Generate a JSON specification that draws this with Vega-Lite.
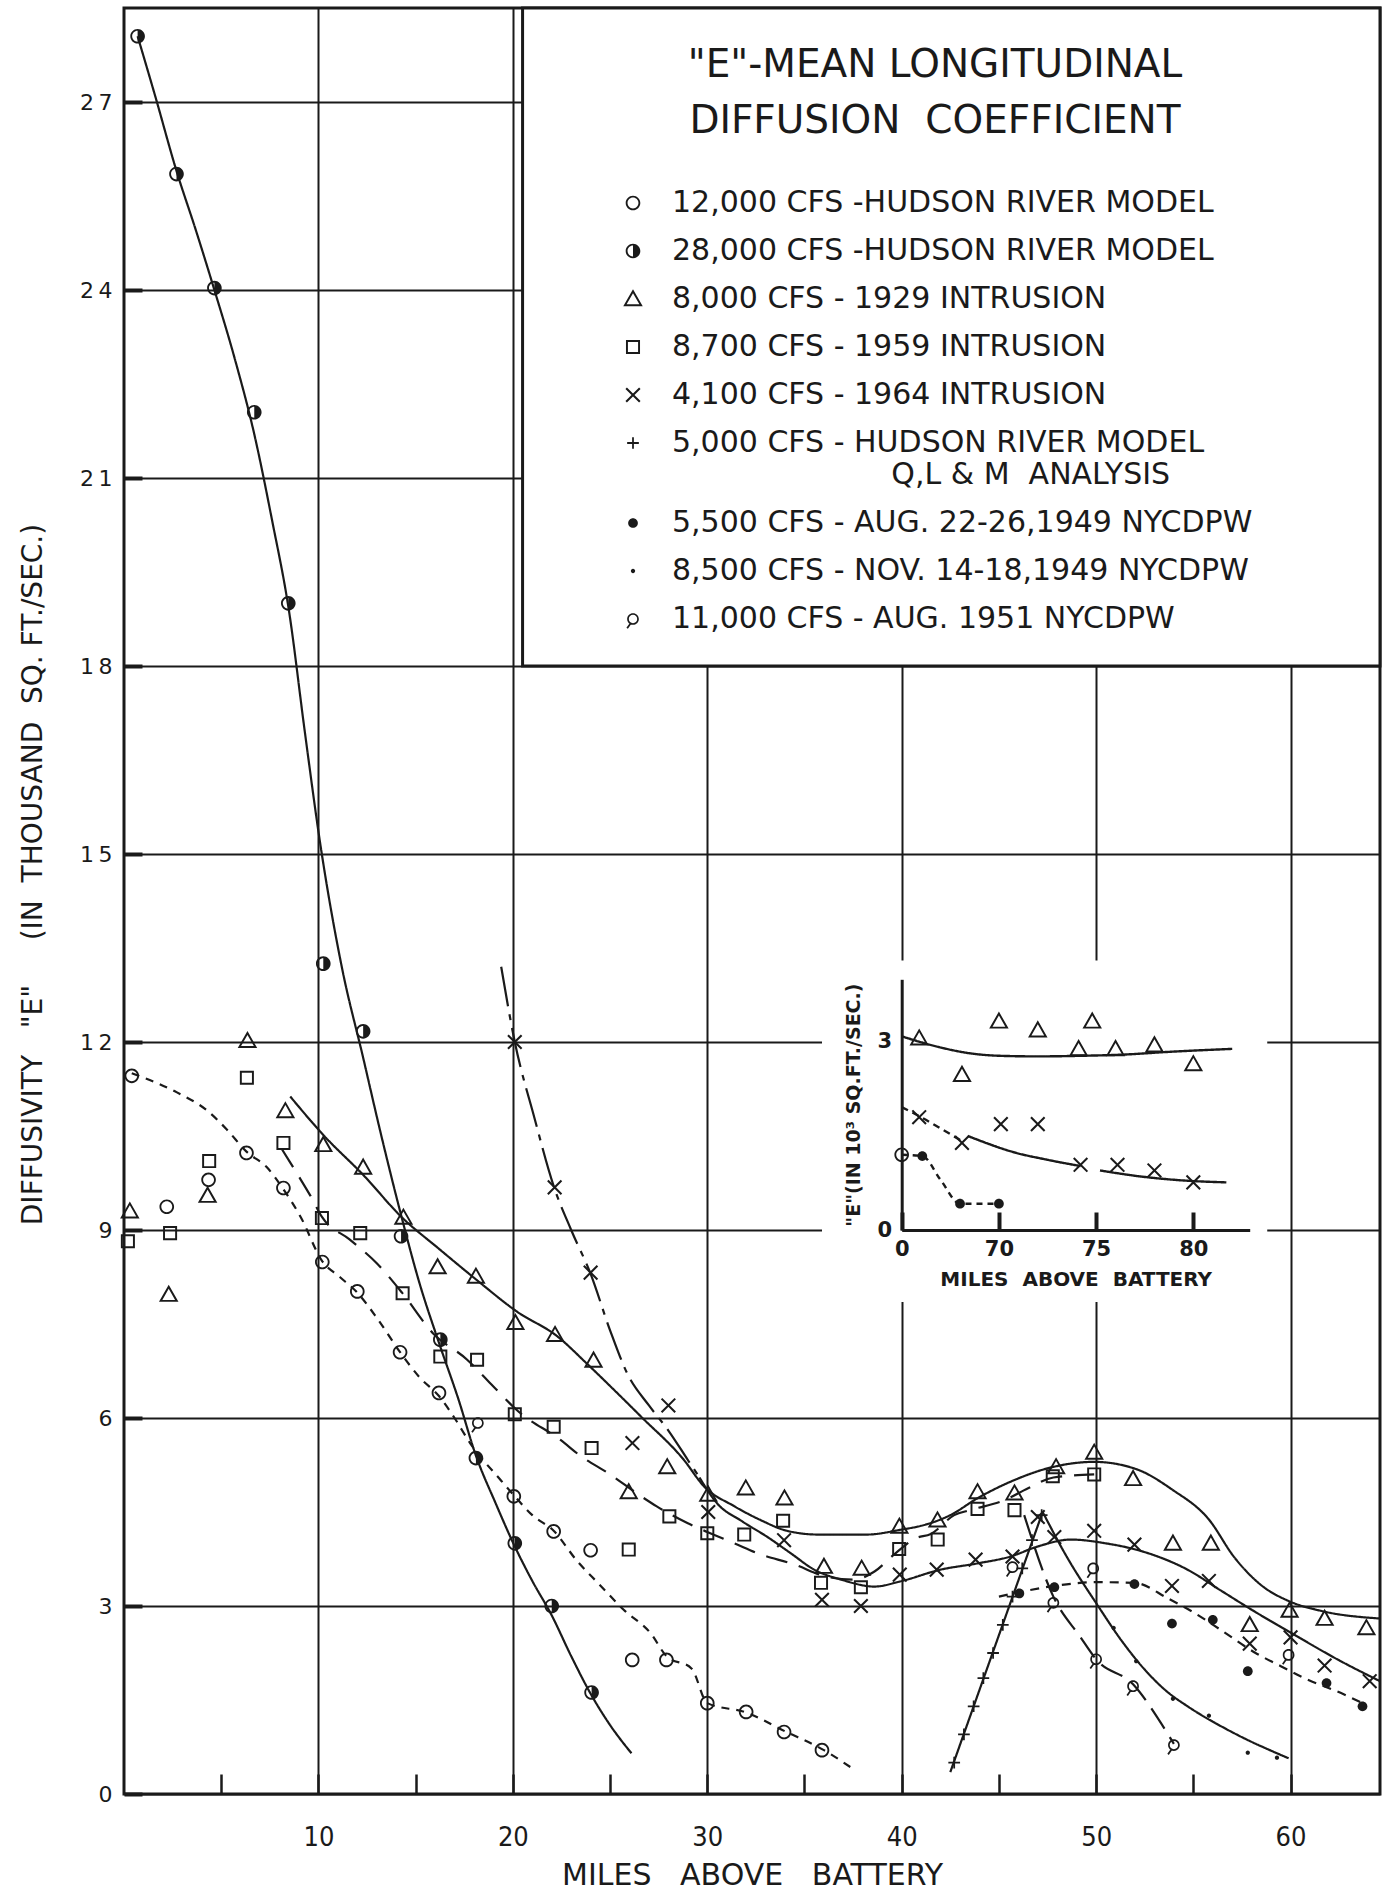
{
"$schema":"https://vega.github.io/schema/vega-lite/v6.json",
"width":1256,"height":1786,
"autosize":{"type":"none"},
"padding":{"left":124,"top":8,"right":11,"bottom":102},
"background":"white",
"config":{
 "view":{"stroke":"#1a1a1a","strokeWidth":3},
 "font":"DejaVu Sans",
 "axis":{"labelColor":"#1a1a1a","titleColor":"#1a1a1a","domainColor":"#1a1a1a","tickColor":"#1a1a1a","gridColor":"#1a1a1a","labelFont":"DejaVu Sans","titleFont":"DejaVu Sans"}
},
"datasets":{
"pts":[
{"series":"12,000 CFS -HUDSON RIVER MODEL","x":0.4,"y":11.46},{"series":"12,000 CFS -HUDSON RIVER MODEL","x":2.2,"y":9.37},{"series":"12,000 CFS -HUDSON RIVER MODEL","x":4.35,"y":9.8},{"series":"12,000 CFS -HUDSON RIVER MODEL","x":6.3,"y":10.23},{"series":"12,000 CFS -HUDSON RIVER MODEL","x":8.2,"y":9.67},{"series":"12,000 CFS -HUDSON RIVER MODEL","x":10.2,"y":8.49},{"series":"12,000 CFS -HUDSON RIVER MODEL","x":12.0,"y":8.02},{"series":"12,000 CFS -HUDSON RIVER MODEL","x":14.2,"y":7.05},{"series":"12,000 CFS -HUDSON RIVER MODEL","x":16.2,"y":6.4},{"series":"12,000 CFS -HUDSON RIVER MODEL","x":20.05,"y":4.75},{"series":"12,000 CFS -HUDSON RIVER MODEL","x":22.1,"y":4.19},{"series":"12,000 CFS -HUDSON RIVER MODEL","x":24.0,"y":3.89},{"series":"12,000 CFS -HUDSON RIVER MODEL","x":26.14,"y":2.14},{"series":"12,000 CFS -HUDSON RIVER MODEL","x":27.9,"y":2.14},{"series":"12,000 CFS -HUDSON RIVER MODEL","x":30.0,"y":1.45},{"series":"12,000 CFS -HUDSON RIVER MODEL","x":32.0,"y":1.31},{"series":"12,000 CFS -HUDSON RIVER MODEL","x":33.95,"y":0.99},{"series":"12,000 CFS -HUDSON RIVER MODEL","x":35.9,"y":0.7},
{"series":"28,000 CFS -HUDSON RIVER MODEL","x":0.7,"y":28.05},{"series":"28,000 CFS -HUDSON RIVER MODEL","x":2.7,"y":25.85},{"series":"28,000 CFS -HUDSON RIVER MODEL","x":4.65,"y":24.03},{"series":"28,000 CFS -HUDSON RIVER MODEL","x":6.7,"y":22.05},{"series":"28,000 CFS -HUDSON RIVER MODEL","x":8.45,"y":19.0},{"series":"28,000 CFS -HUDSON RIVER MODEL","x":10.25,"y":13.25},{"series":"28,000 CFS -HUDSON RIVER MODEL","x":12.3,"y":12.17},{"series":"28,000 CFS -HUDSON RIVER MODEL","x":14.25,"y":8.9},{"series":"28,000 CFS -HUDSON RIVER MODEL","x":16.27,"y":7.25},{"series":"28,000 CFS -HUDSON RIVER MODEL","x":18.1,"y":5.36},{"series":"28,000 CFS -HUDSON RIVER MODEL","x":20.1,"y":4.0},{"series":"28,000 CFS -HUDSON RIVER MODEL","x":22.0,"y":3.0},{"series":"28,000 CFS -HUDSON RIVER MODEL","x":24.05,"y":1.62},
{"series":"8,000 CFS - 1929 INTRUSION","x":0.3,"y":9.3},{"series":"8,000 CFS - 1929 INTRUSION","x":2.3,"y":7.97},{"series":"8,000 CFS - 1929 INTRUSION","x":4.3,"y":9.55},{"series":"8,000 CFS - 1929 INTRUSION","x":6.35,"y":12.02},{"series":"8,000 CFS - 1929 INTRUSION","x":8.3,"y":10.9},{"series":"8,000 CFS - 1929 INTRUSION","x":10.25,"y":10.36},{"series":"8,000 CFS - 1929 INTRUSION","x":12.3,"y":10.0},{"series":"8,000 CFS - 1929 INTRUSION","x":14.37,"y":9.2},{"series":"8,000 CFS - 1929 INTRUSION","x":16.13,"y":8.41},{"series":"8,000 CFS - 1929 INTRUSION","x":18.1,"y":8.26},{"series":"8,000 CFS - 1929 INTRUSION","x":20.13,"y":7.52},{"series":"8,000 CFS - 1929 INTRUSION","x":22.17,"y":7.33},{"series":"8,000 CFS - 1929 INTRUSION","x":24.15,"y":6.92},{"series":"8,000 CFS - 1929 INTRUSION","x":25.96,"y":4.82},{"series":"8,000 CFS - 1929 INTRUSION","x":27.94,"y":5.22},{"series":"8,000 CFS - 1929 INTRUSION","x":30.05,"y":4.78},{"series":"8,000 CFS - 1929 INTRUSION","x":31.98,"y":4.88},{"series":"8,000 CFS - 1929 INTRUSION","x":33.97,"y":4.72},{"series":"8,000 CFS - 1929 INTRUSION","x":36.0,"y":3.63},{"series":"8,000 CFS - 1929 INTRUSION","x":37.94,"y":3.6},{"series":"8,000 CFS - 1929 INTRUSION","x":39.88,"y":4.27},{"series":"8,000 CFS - 1929 INTRUSION","x":41.84,"y":4.37},{"series":"8,000 CFS - 1929 INTRUSION","x":43.9,"y":4.82},{"series":"8,000 CFS - 1929 INTRUSION","x":45.8,"y":4.8},{"series":"8,000 CFS - 1929 INTRUSION","x":47.94,"y":5.22},{"series":"8,000 CFS - 1929 INTRUSION","x":49.9,"y":5.45},{"series":"8,000 CFS - 1929 INTRUSION","x":51.9,"y":5.03},{"series":"8,000 CFS - 1929 INTRUSION","x":53.95,"y":4.0},{"series":"8,000 CFS - 1929 INTRUSION","x":55.9,"y":4.0},{"series":"8,000 CFS - 1929 INTRUSION","x":57.9,"y":2.7},{"series":"8,000 CFS - 1929 INTRUSION","x":59.95,"y":2.93},{"series":"8,000 CFS - 1929 INTRUSION","x":61.75,"y":2.8},{"series":"8,000 CFS - 1929 INTRUSION","x":63.9,"y":2.65},
{"series":"8,700 CFS - 1959 INTRUSION","x":0.2,"y":8.82},{"series":"8,700 CFS - 1959 INTRUSION","x":2.37,"y":8.95},{"series":"8,700 CFS - 1959 INTRUSION","x":4.38,"y":10.1},{"series":"8,700 CFS - 1959 INTRUSION","x":6.32,"y":11.43},{"series":"8,700 CFS - 1959 INTRUSION","x":8.2,"y":10.39},{"series":"8,700 CFS - 1959 INTRUSION","x":10.18,"y":9.19},{"series":"8,700 CFS - 1959 INTRUSION","x":12.15,"y":8.95},{"series":"8,700 CFS - 1959 INTRUSION","x":14.33,"y":7.99},{"series":"8,700 CFS - 1959 INTRUSION","x":16.27,"y":6.98},{"series":"8,700 CFS - 1959 INTRUSION","x":18.16,"y":6.93},{"series":"8,700 CFS - 1959 INTRUSION","x":20.1,"y":6.06},{"series":"8,700 CFS - 1959 INTRUSION","x":22.1,"y":5.86},{"series":"8,700 CFS - 1959 INTRUSION","x":24.05,"y":5.52},{"series":"8,700 CFS - 1959 INTRUSION","x":25.96,"y":3.9},{"series":"8,700 CFS - 1959 INTRUSION","x":28.05,"y":4.43},{"series":"8,700 CFS - 1959 INTRUSION","x":30.0,"y":4.16},{"series":"8,700 CFS - 1959 INTRUSION","x":31.9,"y":4.14},{"series":"8,700 CFS - 1959 INTRUSION","x":33.9,"y":4.36},{"series":"8,700 CFS - 1959 INTRUSION","x":35.85,"y":3.37},{"series":"8,700 CFS - 1959 INTRUSION","x":37.9,"y":3.3},{"series":"8,700 CFS - 1959 INTRUSION","x":39.87,"y":3.91},{"series":"8,700 CFS - 1959 INTRUSION","x":41.85,"y":4.06},{"series":"8,700 CFS - 1959 INTRUSION","x":43.9,"y":4.55},{"series":"8,700 CFS - 1959 INTRUSION","x":45.8,"y":4.53},{"series":"8,700 CFS - 1959 INTRUSION","x":47.77,"y":5.07},{"series":"8,700 CFS - 1959 INTRUSION","x":49.9,"y":5.1},
{"series":"4,100 CFS - 1964 INTRUSION","x":20.1,"y":12.0},{"series":"4,100 CFS - 1964 INTRUSION","x":22.15,"y":9.68},{"series":"4,100 CFS - 1964 INTRUSION","x":24.0,"y":8.32},{"series":"4,100 CFS - 1964 INTRUSION","x":26.15,"y":5.6},{"series":"4,100 CFS - 1964 INTRUSION","x":28.0,"y":6.2},{"series":"4,100 CFS - 1964 INTRUSION","x":30.05,"y":4.5},{"series":"4,100 CFS - 1964 INTRUSION","x":33.95,"y":4.05},{"series":"4,100 CFS - 1964 INTRUSION","x":35.9,"y":3.1},{"series":"4,100 CFS - 1964 INTRUSION","x":37.9,"y":3.0},{"series":"4,100 CFS - 1964 INTRUSION","x":39.9,"y":3.5},{"series":"4,100 CFS - 1964 INTRUSION","x":41.8,"y":3.58},{"series":"4,100 CFS - 1964 INTRUSION","x":43.8,"y":3.74},{"series":"4,100 CFS - 1964 INTRUSION","x":45.7,"y":3.79},{"series":"4,100 CFS - 1964 INTRUSION","x":47.0,"y":4.42},{"series":"4,100 CFS - 1964 INTRUSION","x":47.85,"y":4.1},{"series":"4,100 CFS - 1964 INTRUSION","x":49.9,"y":4.2},{"series":"4,100 CFS - 1964 INTRUSION","x":51.97,"y":3.98},{"series":"4,100 CFS - 1964 INTRUSION","x":53.9,"y":3.32},{"series":"4,100 CFS - 1964 INTRUSION","x":55.8,"y":3.4},{"series":"4,100 CFS - 1964 INTRUSION","x":57.9,"y":2.4},{"series":"4,100 CFS - 1964 INTRUSION","x":60.0,"y":2.5},{"series":"4,100 CFS - 1964 INTRUSION","x":61.75,"y":2.05},{"series":"4,100 CFS - 1964 INTRUSION","x":64.07,"y":1.8},
{"series":"5,000 CFS - HUDSON RIVER MODEL","x":42.7,"y":0.5},{"series":"5,000 CFS - HUDSON RIVER MODEL","x":43.2,"y":0.95},{"series":"5,000 CFS - HUDSON RIVER MODEL","x":43.7,"y":1.4},{"series":"5,000 CFS - HUDSON RIVER MODEL","x":44.2,"y":1.85},{"series":"5,000 CFS - HUDSON RIVER MODEL","x":44.7,"y":2.25},{"series":"5,000 CFS - HUDSON RIVER MODEL","x":45.2,"y":2.7},{"series":"5,000 CFS - HUDSON RIVER MODEL","x":45.7,"y":3.15},{"series":"5,000 CFS - HUDSON RIVER MODEL","x":46.2,"y":3.6},{"series":"5,000 CFS - HUDSON RIVER MODEL","x":46.7,"y":4.05},{"series":"5,000 CFS - HUDSON RIVER MODEL","x":47.2,"y":4.45},
{"series":"5,500 CFS - AUG. 22-26,1949 NYCDPW","x":46.05,"y":3.2},{"series":"5,500 CFS - AUG. 22-26,1949 NYCDPW","x":47.85,"y":3.3},{"series":"5,500 CFS - AUG. 22-26,1949 NYCDPW","x":51.97,"y":3.35},{"series":"5,500 CFS - AUG. 22-26,1949 NYCDPW","x":53.9,"y":2.72},{"series":"5,500 CFS - AUG. 22-26,1949 NYCDPW","x":56.0,"y":2.78},{"series":"5,500 CFS - AUG. 22-26,1949 NYCDPW","x":57.8,"y":1.96},{"series":"5,500 CFS - AUG. 22-26,1949 NYCDPW","x":61.85,"y":1.77},{"series":"5,500 CFS - AUG. 22-26,1949 NYCDPW","x":63.7,"y":1.4},
{"series":"8,500 CFS - NOV. 14-18,1949 NYCDPW","x":50.9,"y":2.65},{"series":"8,500 CFS - NOV. 14-18,1949 NYCDPW","x":52.06,"y":2.12},{"series":"8,500 CFS - NOV. 14-18,1949 NYCDPW","x":53.95,"y":1.52},{"series":"8,500 CFS - NOV. 14-18,1949 NYCDPW","x":55.8,"y":1.25},{"series":"8,500 CFS - NOV. 14-18,1949 NYCDPW","x":57.8,"y":0.66},{"series":"8,500 CFS - NOV. 14-18,1949 NYCDPW","x":59.3,"y":0.58},
{"series":"11,000 CFS - AUG. 1951 NYCDPW","x":18.2,"y":5.92},{"series":"11,000 CFS - AUG. 1951 NYCDPW","x":45.7,"y":3.62},{"series":"11,000 CFS - AUG. 1951 NYCDPW","x":47.8,"y":3.05},{"series":"11,000 CFS - AUG. 1951 NYCDPW","x":49.85,"y":3.6},{"series":"11,000 CFS - AUG. 1951 NYCDPW","x":50.0,"y":2.15},{"series":"11,000 CFS - AUG. 1951 NYCDPW","x":51.9,"y":1.72},{"series":"11,000 CFS - AUG. 1951 NYCDPW","x":54.0,"y":0.78},{"series":"11,000 CFS - AUG. 1951 NYCDPW","x":59.9,"y":2.22}
],
"curves":[
{"curve":"c28000","x":0.7,"y":28.05},{"curve":"c28000","x":1.6,"y":27.1},{"curve":"c28000","x":2.7,"y":25.9},{"curve":"c28000","x":3.7,"y":24.95},{"curve":"c28000","x":4.65,"y":24.0},{"curve":"c28000","x":5.7,"y":22.9},{"curve":"c28000","x":6.7,"y":21.7},{"curve":"c28000","x":7.6,"y":20.35},{"curve":"c28000","x":8.5,"y":18.85},{"curve":"c28000","x":9.3,"y":16.95},{"curve":"c28000","x":10.1,"y":15.15},{"curve":"c28000","x":11.2,"y":13.2},{"curve":"c28000","x":12.3,"y":11.75},{"curve":"c28000","x":13.2,"y":10.55},{"curve":"c28000","x":14.2,"y":9.3},{"curve":"c28000","x":15.2,"y":8.15},{"curve":"c28000","x":16.2,"y":7.2},{"curve":"c28000","x":17.2,"y":6.3},{"curve":"c28000","x":18.1,"y":5.4},{"curve":"c28000","x":19.1,"y":4.65},{"curve":"c28000","x":20.1,"y":3.95},{"curve":"c28000","x":21.0,"y":3.4},{"curve":"c28000","x":22.0,"y":2.85},{"curve":"c28000","x":23.0,"y":2.2},{"curve":"c28000","x":24.0,"y":1.6},{"curve":"c28000","x":25.0,"y":1.1},{"curve":"c28000","x":26.1,"y":0.65},
{"curve":"c12000","x":0.4,"y":11.5},{"curve":"c12000","x":2.7,"y":11.2},{"curve":"c12000","x":4.3,"y":10.9},{"curve":"c12000","x":5.3,"y":10.6},{"curve":"c12000","x":6.3,"y":10.25},{"curve":"c12000","x":7.35,"y":10.0},{"curve":"c12000","x":8.2,"y":9.65},{"curve":"c12000","x":9.1,"y":9.2},{"curve":"c12000","x":10.2,"y":8.5},{"curve":"c12000","x":11.1,"y":8.25},{"curve":"c12000","x":12.0,"y":8.0},{"curve":"c12000","x":13.0,"y":7.6},{"curve":"c12000","x":14.2,"y":7.05},{"curve":"c12000","x":15.2,"y":6.65},{"curve":"c12000","x":16.2,"y":6.35},{"curve":"c12000","x":17.0,"y":6.0},{"curve":"c12000","x":17.8,"y":5.6},{"curve":"c12000","x":19.4,"y":5.0},{"curve":"c12000","x":20.1,"y":4.75},{"curve":"c12000","x":21.0,"y":4.45},{"curve":"c12000","x":22.1,"y":4.2},{"curve":"c12000","x":23.3,"y":3.72},{"curve":"c12000","x":24.4,"y":3.36},{"curve":"c12000","x":25.7,"y":2.94},{"curve":"c12000","x":27.1,"y":2.56},{"curve":"c12000","x":27.9,"y":2.2},{"curve":"c12000","x":29.2,"y":2.0},{"curve":"c12000","x":30.0,"y":1.45},{"curve":"c12000","x":32.0,"y":1.3},{"curve":"c12000","x":34.0,"y":1.0},{"curve":"c12000","x":36.0,"y":0.7},{"curve":"c12000","x":37.5,"y":0.4},
{"curve":"c1929","x":8.55,"y":11.13},{"curve":"c1929","x":10.3,"y":10.5},{"curve":"c1929","x":12.3,"y":9.88},{"curve":"c1929","x":14.3,"y":9.2},{"curve":"c1929","x":16.2,"y":8.7},{"curve":"c1929","x":18.15,"y":8.2},{"curve":"c1929","x":20.2,"y":7.7},{"curve":"c1929","x":22.3,"y":7.3},{"curve":"c1929","x":23.8,"y":6.87},{"curve":"c1929","x":25.2,"y":6.45},{"curve":"c1929","x":26.6,"y":6.02},{"curve":"c1929","x":28.8,"y":5.33},{"curve":"c1929","x":29.8,"y":4.92},{"curve":"c1929","x":31.4,"y":4.59},{"curve":"c1929","x":32.75,"y":4.37},{"curve":"c1929","x":34.1,"y":4.2},{"curve":"c1929","x":35.7,"y":4.14},{"curve":"c1929","x":38.2,"y":4.14},{"curve":"c1929","x":40.0,"y":4.22},{"curve":"c1929","x":41.0,"y":4.28},{"curve":"c1929","x":42.5,"y":4.45},{"curve":"c1929","x":43.9,"y":4.72},{"curve":"c1929","x":45.5,"y":4.97},{"curve":"c1929","x":47.8,"y":5.22},{"curve":"c1929","x":49.9,"y":5.3},{"curve":"c1929","x":52.1,"y":5.18},{"curve":"c1929","x":53.9,"y":4.86},{"curve":"c1929","x":55.8,"y":4.38},{"curve":"c1929","x":57.1,"y":3.78},{"curve":"c1929","x":58.5,"y":3.33},{"curve":"c1929","x":59.9,"y":3.08},{"curve":"c1929","x":61.6,"y":2.92},{"curve":"c1929","x":64.6,"y":2.8},
{"curve":"c1959","x":8.1,"y":10.3},{"curve":"c1959","x":9.0,"y":9.85},{"curve":"c1959","x":9.6,"y":9.54},{"curve":"c1959","x":10.2,"y":9.2},{"curve":"c1959","x":11.6,"y":8.85},{"curve":"c1959","x":13.0,"y":8.47},{"curve":"c1959","x":14.3,"y":8.0},{"curve":"c1959","x":15.9,"y":7.35},{"curve":"c1959","x":17.65,"y":6.93},{"curve":"c1959","x":18.7,"y":6.6},{"curve":"c1959","x":20.3,"y":6.1},{"curve":"c1959","x":22.45,"y":5.65},{"curve":"c1959","x":23.5,"y":5.39},{"curve":"c1959","x":24.9,"y":5.12},{"curve":"c1959","x":26.6,"y":4.75},{"curve":"c1959","x":27.4,"y":4.59},{"curve":"c1959","x":29.0,"y":4.32},{"curve":"c1959","x":30.0,"y":4.18},{"curve":"c1959","x":31.4,"y":4.0},{"curve":"c1959","x":32.6,"y":3.84},{"curve":"c1959","x":34.5,"y":3.66},{"curve":"c1959","x":36.0,"y":3.48},{"curve":"c1959","x":37.5,"y":3.42},{"curve":"c1959","x":38.6,"y":3.55},{"curve":"c1959","x":39.6,"y":3.82},{"curve":"c1959","x":40.7,"y":4.08},{"curve":"c1959","x":41.5,"y":4.15},{"curve":"c1959","x":42.7,"y":4.45},{"curve":"c1959","x":43.5,"y":4.53},{"curve":"c1959","x":45.3,"y":4.69},{"curve":"c1959","x":46.5,"y":4.88},{"curve":"c1959","x":47.8,"y":5.05},{"curve":"c1959","x":49.9,"y":5.1},
{"curve":"c1964a","x":19.4,"y":13.2},{"curve":"c1964a","x":20.1,"y":12.0},{"curve":"c1964a","x":21.1,"y":10.8},{"curve":"c1964a","x":22.1,"y":9.7},{"curve":"c1964a","x":23.0,"y":9.0},{"curve":"c1964a","x":24.0,"y":8.3},{"curve":"c1964a","x":25.0,"y":7.4},{"curve":"c1964a","x":25.9,"y":6.7},{"curve":"c1964a","x":27.0,"y":6.2},{"curve":"c1964a","x":28.0,"y":5.8},{"curve":"c1964a","x":29.0,"y":5.33},{"curve":"c1964a","x":29.6,"y":5.05},
{"curve":"c1964b","x":29.6,"y":5.05},{"curve":"c1964b","x":30.5,"y":4.64},{"curve":"c1964b","x":31.8,"y":4.35},{"curve":"c1964b","x":33.1,"y":4.1},{"curve":"c1964b","x":34.3,"y":3.84},{"curve":"c1964b","x":35.5,"y":3.58},{"curve":"c1964b","x":36.9,"y":3.42},{"curve":"c1964b","x":38.6,"y":3.31},{"curve":"c1964b","x":39.9,"y":3.39},{"curve":"c1964b","x":42.0,"y":3.58},{"curve":"c1964b","x":43.9,"y":3.68},{"curve":"c1964b","x":45.6,"y":3.79},{"curve":"c1964b","x":47.0,"y":3.95},{"curve":"c1964b","x":48.7,"y":4.06},{"curve":"c1964b","x":50.5,"y":4.0},{"curve":"c1964b","x":52.6,"y":3.85},{"curve":"c1964b","x":54.7,"y":3.58},{"curve":"c1964b","x":56.4,"y":3.25},{"curve":"c1964b","x":58.0,"y":2.94},{"curve":"c1964b","x":60.2,"y":2.54},{"curve":"c1964b","x":62.4,"y":2.15},{"curve":"c1964b","x":64.6,"y":1.8},
{"curve":"cplusup","x":42.5,"y":0.35},{"curve":"cplusup","x":47.25,"y":4.5},
{"curve":"cplusdown","x":47.25,"y":4.5},{"curve":"cplusdown","x":48.5,"y":3.78},{"curve":"cplusdown","x":50.1,"y":3.0},{"curve":"cplusdown","x":51.3,"y":2.45},{"curve":"cplusdown","x":52.6,"y":1.95},{"curve":"cplusdown","x":53.7,"y":1.62},{"curve":"cplusdown","x":54.7,"y":1.4},{"curve":"cplusdown","x":57.1,"y":0.97},{"curve":"cplusdown","x":59.9,"y":0.57},
{"curve":"c5500","x":45.0,"y":3.15},{"curve":"c5500","x":46.05,"y":3.22},{"curve":"c5500","x":47.85,"y":3.32},{"curve":"c5500","x":50.0,"y":3.38},{"curve":"c5500","x":51.97,"y":3.37},{"curve":"c5500","x":53.7,"y":3.12},{"curve":"c5500","x":55.05,"y":2.89},{"curve":"c5500","x":56.4,"y":2.62},{"curve":"c5500","x":58.2,"y":2.25},{"curve":"c5500","x":59.5,"y":2.04},{"curve":"c5500","x":60.7,"y":1.85},{"curve":"c5500","x":62.6,"y":1.61},{"curve":"c5500","x":63.7,"y":1.45},
{"curve":"c11000","x":46.3,"y":4.45},{"curve":"c11000","x":47.8,"y":3.15},{"curve":"c11000","x":49.2,"y":2.5},{"curve":"c11000","x":50.0,"y":2.15},{"curve":"c11000","x":51.9,"y":1.75},{"curve":"c11000","x":53.4,"y":1.1},{"curve":"c11000","x":54.0,"y":0.8}
],
"ipts":[
{"series":"8,000 CFS - 1929 INTRUSION","x":65.9,"y":3.06},{"series":"8,000 CFS - 1929 INTRUSION","x":68.1,"y":2.48},{"series":"8,000 CFS - 1929 INTRUSION","x":70.0,"y":3.33},{"series":"8,000 CFS - 1929 INTRUSION","x":72.0,"y":3.19},{"series":"8,000 CFS - 1929 INTRUSION","x":74.1,"y":2.89},{"series":"8,000 CFS - 1929 INTRUSION","x":74.8,"y":3.33},{"series":"8,000 CFS - 1929 INTRUSION","x":76.0,"y":2.89},{"series":"8,000 CFS - 1929 INTRUSION","x":78.0,"y":2.95},{"series":"8,000 CFS - 1929 INTRUSION","x":80.0,"y":2.65},
{"series":"4,100 CFS - 1964 INTRUSION","x":65.9,"y":1.8},{"series":"4,100 CFS - 1964 INTRUSION","x":68.1,"y":1.39},{"series":"4,100 CFS - 1964 INTRUSION","x":70.1,"y":1.69},{"series":"4,100 CFS - 1964 INTRUSION","x":72.0,"y":1.69},{"series":"4,100 CFS - 1964 INTRUSION","x":74.2,"y":1.04},{"series":"4,100 CFS - 1964 INTRUSION","x":76.1,"y":1.04},{"series":"4,100 CFS - 1964 INTRUSION","x":78.0,"y":0.95},{"series":"4,100 CFS - 1964 INTRUSION","x":80.0,"y":0.76},
{"series":"12,000 CFS -HUDSON RIVER MODEL","x":65.0,"y":1.2},
{"series":"5,500 CFS - AUG. 22-26,1949 NYCDPW","x":66.06,"y":1.18},{"series":"5,500 CFS - AUG. 22-26,1949 NYCDPW","x":68.0,"y":0.42},{"series":"5,500 CFS - AUG. 22-26,1949 NYCDPW","x":70.0,"y":0.42}
],
"icurves":[
{"curve":"i1929","x":65.0,"y":3.09},{"curve":"i1929","x":66.9,"y":2.92},{"curve":"i1929","x":68.5,"y":2.82},{"curve":"i1929","x":70.0,"y":2.78},{"curve":"i1929","x":72.0,"y":2.77},{"curve":"i1929","x":74.3,"y":2.78},{"curve":"i1929","x":76.5,"y":2.8},{"curve":"i1929","x":78.6,"y":2.84},{"curve":"i1929","x":82.0,"y":2.89},
{"curve":"i1964a","x":65.0,"y":1.96},{"curve":"i1964a","x":66.0,"y":1.8},{"curve":"i1964a","x":67.0,"y":1.62},{"curve":"i1964a","x":68.1,"y":1.42},
{"curve":"i1964b","x":68.4,"y":1.5},{"curve":"i1964b","x":70.9,"y":1.23},{"curve":"i1964b","x":72.5,"y":1.12},{"curve":"i1964b","x":74.2,"y":1.02},
{"curve":"i1964c","x":75.2,"y":0.95},{"curve":"i1964c","x":77.4,"y":0.85},{"curve":"i1964c","x":79.5,"y":0.79},{"curve":"i1964c","x":81.7,"y":0.76},
{"curve":"i5500","x":65.0,"y":1.2},{"curve":"i5500","x":66.06,"y":1.18},{"curve":"i5500","x":67.0,"y":0.8},{"curve":"i5500","x":68.0,"y":0.42},{"curve":"i5500","x":70.0,"y":0.42}
]
},
"layer":[
{"layer":[
 {"data":{"values":[{"box":"inset background"}]},
  "mark":{"type":"rect","fill":"white","strokeWidth":0},
  "encoding":{"x":{"datum":35.9,"type":"quantitative"},"x2":{"datum":58.8},"y":{"datum":7.85,"type":"quantitative"},"y2":{"datum":13.3}}},
 {"data":{"values":[{"box":"legend frame"}]},
  "mark":{"type":"rect","fill":"white","stroke":"#1a1a1a","strokeWidth":3},
  "encoding":{"x":{"datum":20.5,"type":"quantitative"},"x2":{"datum":64.6},"y":{"datum":18,"type":"quantitative"},"y2":{"datum":28.5}}},
 {"data":{"name":"curves"},
  "mark":{"type":"line","interpolate":"monotone","strokeWidth":2.2,"color":"#1a1a1a"},
  "encoding":{
   "x":{"field":"x","type":"quantitative","scale":{"domain":[0,64.6],"nice":false,"zero":false},
        "axis":{"values":[5,10,15,20,25,30,35,40,45,50,55,60],"format":"d","title":"MILES\u00a0\u00a0 ABOVE\u00a0\u00a0 BATTERY","titleFontSize":30,"titleFontWeight":"normal","titlePadding":10,
                "labelExpr":"datum.value % 10 === 0 ? datum.label : ''","labelFont":"DejaVu Sans Condensed, DejaVu Sans","labelFontSize":27,"labelPadding":50,"labelOverlap":false,"labelFlush":false,
                "tickSize":-20,"tickWidth":2.5,"grid":true,"gridWidth":2,"gridOpacity":{"condition":{"test":"datum.value % 10 === 0","value":1},"value":0},"domain":false}},
   "y":{"field":"y","type":"quantitative","scale":{"domain":[0,28.5],"nice":false,"zero":false},
        "axis":{"values":[0,3,6,9,12,15,18,21,24,27],"format":"d","title":"DIFFUSIVITY\u00a0\u00a0 \"E\"\u00a0\u00a0\u00a0\u00a0 (IN\u00a0 THOUSAND\u00a0 SQ.\u00a0FT./SEC.)","titleFontSize":28,"titleFontWeight":"normal","titlePadding":32,"titleY":866,
                "labelExpr":"length(datum.label) == 2 ? substring(datum.label,0,1) + '\u2009' + substring(datum.label,1,2) : datum.label","labelFontSize":22,"labelPadding":30,"labelOverlap":false,"labelFlush":false,
                "tickSize":-18,"tickWidth":4,"grid":true,"gridWidth":2,"domain":false}},
   "strokeDash":{"field":"curve","type":"nominal","legend":null,
        "scale":{"domain":["c28000","c12000","c1929","c1959","c1964a","c1964b","cplusup","cplusdown","c5500","c11000"],
                 "range":[[1,0],[8,7],[1,0],[22,12],[40,8,6,8],[1,0],[1,0],[1,0],[9,7],[24,10]]}}
  }},
 {"data":{"name":"pts"},
  "mark":{"type":"point","filled":true,"fill":"#1a1a1a","strokeWidth":0,"opacity":1,"size":380},
  "encoding":{
   "x":{"field":"x","type":"quantitative"},
   "y":{"field":"y","type":"quantitative"},
   "shape":{"field":"series","type":"nominal",
     "scale":{"domain":["12,000 CFS -HUDSON RIVER MODEL","28,000 CFS -HUDSON RIVER MODEL","8,000 CFS - 1929 INTRUSION","8,700 CFS - 1959 INTRUSION","4,100 CFS - 1964 INTRUSION","5,000 CFS - HUDSON RIVER MODEL","5,500 CFS - AUG. 22-26,1949 NYCDPW","8,500 CFS - NOV. 14-18,1949 NYCDPW","11,000 CFS - AUG. 1951 NYCDPW"],
      "range":["M-0.75,0A0.75,0.75,0,1,0,0.75,0A0.75,0.75,0,1,0,-0.75,0ZM-0.56,0A0.56,0.56,0,1,1,0.56,0A0.56,0.56,0,1,1,-0.56,0Z",
               "M-0.75,0A0.75,0.75,0,1,0,0.75,0A0.75,0.75,0,1,0,-0.75,0ZM0,0.56A0.56,0.56,0,0,1,0,-0.56Z",
               "M0,-1L1,0.75L-1,0.75ZM0,-0.6L-0.655,0.55L0.655,0.55Z",
               "M-0.72,-0.72L0.72,-0.72L0.72,0.72L-0.72,0.72ZM-0.52,-0.52L-0.52,0.52L0.52,0.52L0.52,-0.52Z",
               "M-0.625,-0.775L0.775,0.625L0.625,0.775L-0.775,-0.625ZM-0.775,0.625L0.625,-0.775L0.775,-0.625L-0.625,0.775Z",
               "M-0.6,-0.09L0.6,-0.09L0.6,0.09L-0.6,0.09ZM-0.09,-0.6L0.09,-0.6L0.09,0.6L-0.09,0.6Z",
               "M-0.5,0A0.5,0.5,0,1,0,0.5,0A0.5,0.5,0,1,0,-0.5,0Z",
               "M-0.22,0A0.22,0.22,0,1,0,0.22,0A0.22,0.22,0,1,0,-0.22,0Z",
               "M-0.6,0A0.6,0.6,0,1,0,0.6,0A0.6,0.6,0,1,0,-0.6,0ZM-0.43,0A0.43,0.43,0,1,1,0.43,0A0.43,0.43,0,1,1,-0.43,0ZM-0.176,0.502L-0.324,0.398L-0.674,0.898L-0.526,1.002Z"]},
     "legend":{"orient":"none","legendX":494,"legendY":38,
       "title":["\"E\"-MEAN LONGITUDINAL","DIFFUSION\u00a0 COEFFICIENT"],
       "titleFont":"DejaVu Sans","titleFontSize":39,"titleFontWeight":"normal","titleColor":"#1a1a1a","titleAnchor":"middle","titleLineHeight":56,"titlePadding":47,"titleLimit":1200,
       "labelFont":"DejaVu Sans","labelFontSize":30,"labelColor":"#1a1a1a","labelOffset":24,"labelLimit":1200,
       "labelExpr":"datum.label == '5,000 CFS - HUDSON RIVER MODEL' ? ['5,000 CFS - HUDSON RIVER MODEL', '\u200b\u00a0\u00a0\u00a0\u00a0\u00a0\u00a0\u00a0\u00a0\u00a0\u00a0\u00a0\u00a0\u00a0\u00a0\u00a0\u00a0\u00a0\u00a0\u00a0\u00a0\u00a0\u00a0\u00a0Q,L & M\u00a0 ANALYSIS'] : datum.label",
       "symbolSize":380,"symbolFillColor":"#1a1a1a","symbolStrokeWidth":0,"symbolOpacity":1,"rowPadding":18,"padding":0}}
  }}
]},
{"layer":[
 {"data":{"name":"icurves"},
  "mark":{"type":"line","interpolate":"monotone","strokeWidth":2.4,"color":"#1a1a1a"},
  "encoding":{
   "x":{"field":"x","type":"quantitative","scale":{"domain":[65,82.9],"range":[777.7,1125.7],"nice":false,"zero":false},
        "axis":{"orient":"bottom","offset":-564,"zindex":1,"values":[65,70,75,80],"format":"d","labelExpr":"datum.value == 65 ? '0' : datum.label","labelFontSize":21,"labelFontWeight":"bold","labelPadding":26,"labelFlush":false,"labelOverlap":false,
                "tickSize":-18,"tickWidth":4,"domainWidth":3,"grid":false,"title":"MILES\u00a0 ABOVE\u00a0 BATTERY","titleFontSize":20,"titleFontWeight":"bold","titlePadding":10}},
   "y":{"field":"y","type":"quantitative","scale":{"domain":[0,4],"range":[1222,971.3],"nice":false,"zero":false},
        "axis":{"orient":"left","offset":-777.7,"zindex":1,"values":[0,3],"format":"d","labelFontSize":21,"labelFontWeight":"bold","labelPadding":10,"labelFlush":false,
                "tickSize":0,"domainWidth":3,"grid":false,"title":"\"E\"(IN 10³ SQ.FT./SEC.)","titleFontSize":19,"titleFontWeight":"bold","titlePadding":14}},
   "strokeDash":{"field":"curve","type":"nominal","legend":null,
        "scale":{"domain":["i1929","i1964a","i1964b","i1964c","i5500"],"range":[[1,0],[7,5],[1,0],[1,0],[6,5]]}}
  }},
 {"data":{"name":"ipts"},
  "mark":{"type":"point","filled":true,"fill":"#1a1a1a","strokeWidth":0,"opacity":1,"size":380},
  "encoding":{
   "x":{"field":"x","type":"quantitative"},
   "y":{"field":"y","type":"quantitative"},
   "shape":{"field":"series","type":"nominal",
     "scale":{"domain":["12,000 CFS -HUDSON RIVER MODEL","28,000 CFS -HUDSON RIVER MODEL","8,000 CFS - 1929 INTRUSION","8,700 CFS - 1959 INTRUSION","4,100 CFS - 1964 INTRUSION","5,000 CFS - HUDSON RIVER MODEL","5,500 CFS - AUG. 22-26,1949 NYCDPW","8,500 CFS - NOV. 14-18,1949 NYCDPW","11,000 CFS - AUG. 1951 NYCDPW"],
      "range":["M-0.75,0A0.75,0.75,0,1,0,0.75,0A0.75,0.75,0,1,0,-0.75,0ZM-0.56,0A0.56,0.56,0,1,1,0.56,0A0.56,0.56,0,1,1,-0.56,0Z",
               "M-0.75,0A0.75,0.75,0,1,0,0.75,0A0.75,0.75,0,1,0,-0.75,0ZM0,0.56A0.56,0.56,0,0,1,0,-0.56Z",
               "M0,-1L1,0.75L-1,0.75ZM0,-0.6L-0.655,0.55L0.655,0.55Z",
               "M-0.72,-0.72L0.72,-0.72L0.72,0.72L-0.72,0.72ZM-0.52,-0.52L-0.52,0.52L0.52,0.52L0.52,-0.52Z",
               "M-0.625,-0.775L0.775,0.625L0.625,0.775L-0.775,-0.625ZM-0.775,0.625L0.625,-0.775L0.775,-0.625L-0.625,0.775Z",
               "M-0.6,-0.09L0.6,-0.09L0.6,0.09L-0.6,0.09ZM-0.09,-0.6L0.09,-0.6L0.09,0.6L-0.09,0.6Z",
               "M-0.5,0A0.5,0.5,0,1,0,0.5,0A0.5,0.5,0,1,0,-0.5,0Z",
               "M-0.22,0A0.22,0.22,0,1,0,0.22,0A0.22,0.22,0,1,0,-0.22,0Z",
               "M-0.6,0A0.6,0.6,0,1,0,0.6,0A0.6,0.6,0,1,0,-0.6,0ZM-0.43,0A0.43,0.43,0,1,1,0.43,0A0.43,0.43,0,1,1,-0.43,0ZM-0.176,0.502L-0.324,0.398L-0.674,0.898L-0.526,1.002Z"]}}
  }}
]}
],
"resolve":{"scale":{"x":"independent","y":"independent","strokeDash":"independent"}}
}
